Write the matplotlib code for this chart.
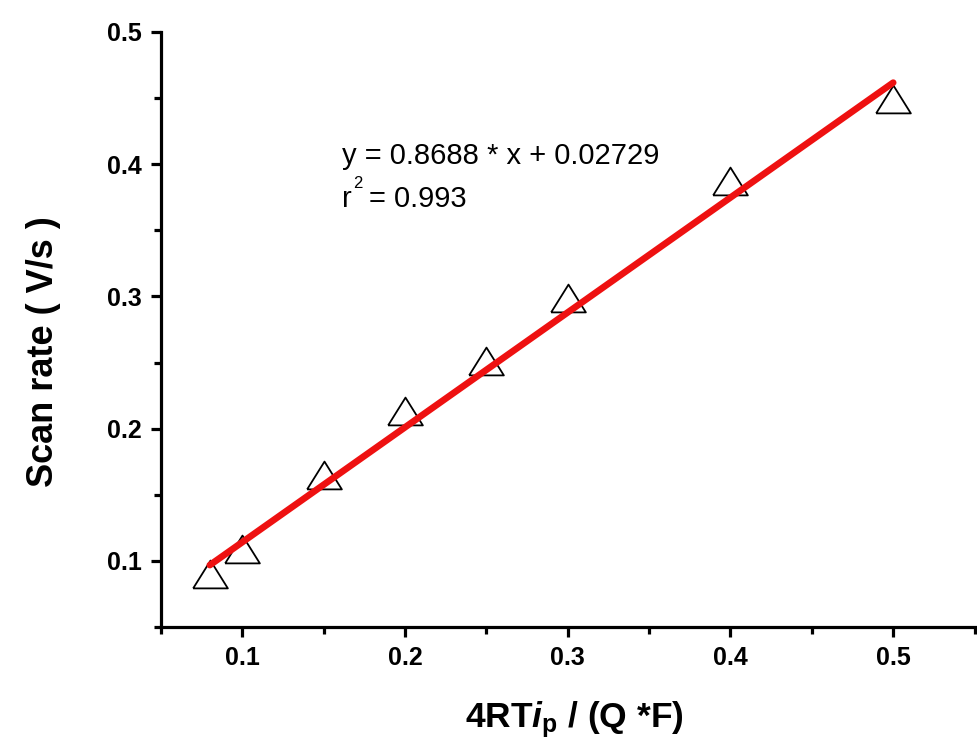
import numpy as np
import matplotlib
matplotlib.use("Agg")
import matplotlib.pyplot as plt
from matplotlib.ticker import MultipleLocator

plt.rcParams['font.family'] = ['Liberation Sans', 'DejaVu Sans']
plt.rcParams['mathtext.fontset'] = 'custom'
plt.rcParams['mathtext.rm'] = 'Liberation Sans:bold'
plt.rcParams['mathtext.it'] = 'Liberation Sans:italic:bold'
plt.rcParams['mathtext.bf'] = 'Liberation Sans:bold'

# Measured points
x_pts = [0.08, 0.10, 0.15, 0.20, 0.25, 0.30, 0.40, 0.50]
y_pts = [0.090, 0.109, 0.165, 0.213, 0.251, 0.299, 0.387, 0.449]

# Linear fit
slope = 0.8688
intercept = 0.02729
r2 = 0.993

fig = plt.figure(figsize=(9.77, 7.44), dpi=100)
ax = fig.add_axes([0.1648, 0.1573, 0.8352, 0.7997])

# wider-than-tall open triangle
tri = [(-1, -0.8), (1, -0.8), (0, 0.8), (-1, -0.8)]
ax.plot(x_pts, y_pts, linestyle='none', marker=tri, markersize=25,
        markerfacecolor='none', markeredgecolor='black', markeredgewidth=1.3,
        zorder=2)

xf = np.array([min(x_pts), max(x_pts)])
ax.plot(xf, slope * xf + intercept, color='#ee1111', lw=4.8,
        solid_capstyle='round', zorder=3)

ax.text(0.161, 0.400, 'y = %.4f * x + %.5f' % (slope, intercept), fontsize=21)
ax.text(0.161, 0.368, 'r', fontsize=21)
ax.text(0.168, 0.382, '2', fontsize=12)
ax.text(0.178, 0.368, '= %.3f' % r2, fontsize=21)

ax.set_xlim(0.05, 0.5515)
ax.set_ylim(0.05, 0.5)
ax.xaxis.set_minor_locator(MultipleLocator(0.05))
ax.yaxis.set_minor_locator(MultipleLocator(0.05))
ax.set_xticks([0.1, 0.2, 0.3, 0.4, 0.5])
ax.set_yticks([0.1, 0.2, 0.3, 0.4, 0.5])
ax.set_xticklabels(['0.1', '0.2', '0.3', '0.4', '0.5'])
ax.set_yticklabels(['0.1', '0.2', '0.3', '0.4', '0.5'])

for s in ['top', 'right']:
    ax.spines[s].set_visible(False)
for s in ['left', 'bottom']:
    ax.spines[s].set_linewidth(2.3)

ax.tick_params(which='major', direction='out', length=7, width=2.3,
               labelsize=18, pad=7)
ax.tick_params(which='minor', direction='out', length=5, width=2.3)
for lab in ax.get_xticklabels() + ax.get_yticklabels():
    lab.set_fontweight('bold')

ax.set_ylabel('Scan rate ( V/s )', fontsize=26, fontweight='bold')
ax.yaxis.set_label_coords(-0.122, 0.462)
ax.set_xlabel(r'4RT$\mathit{i}_{\mathrm{p}}$ / (Q *F)', fontsize=25.5,
              fontweight='bold', va='baseline')
ax.xaxis.set_label_coords(0.507, -0.168)

fig.savefig('out.png', dpi=100, facecolor='white')
